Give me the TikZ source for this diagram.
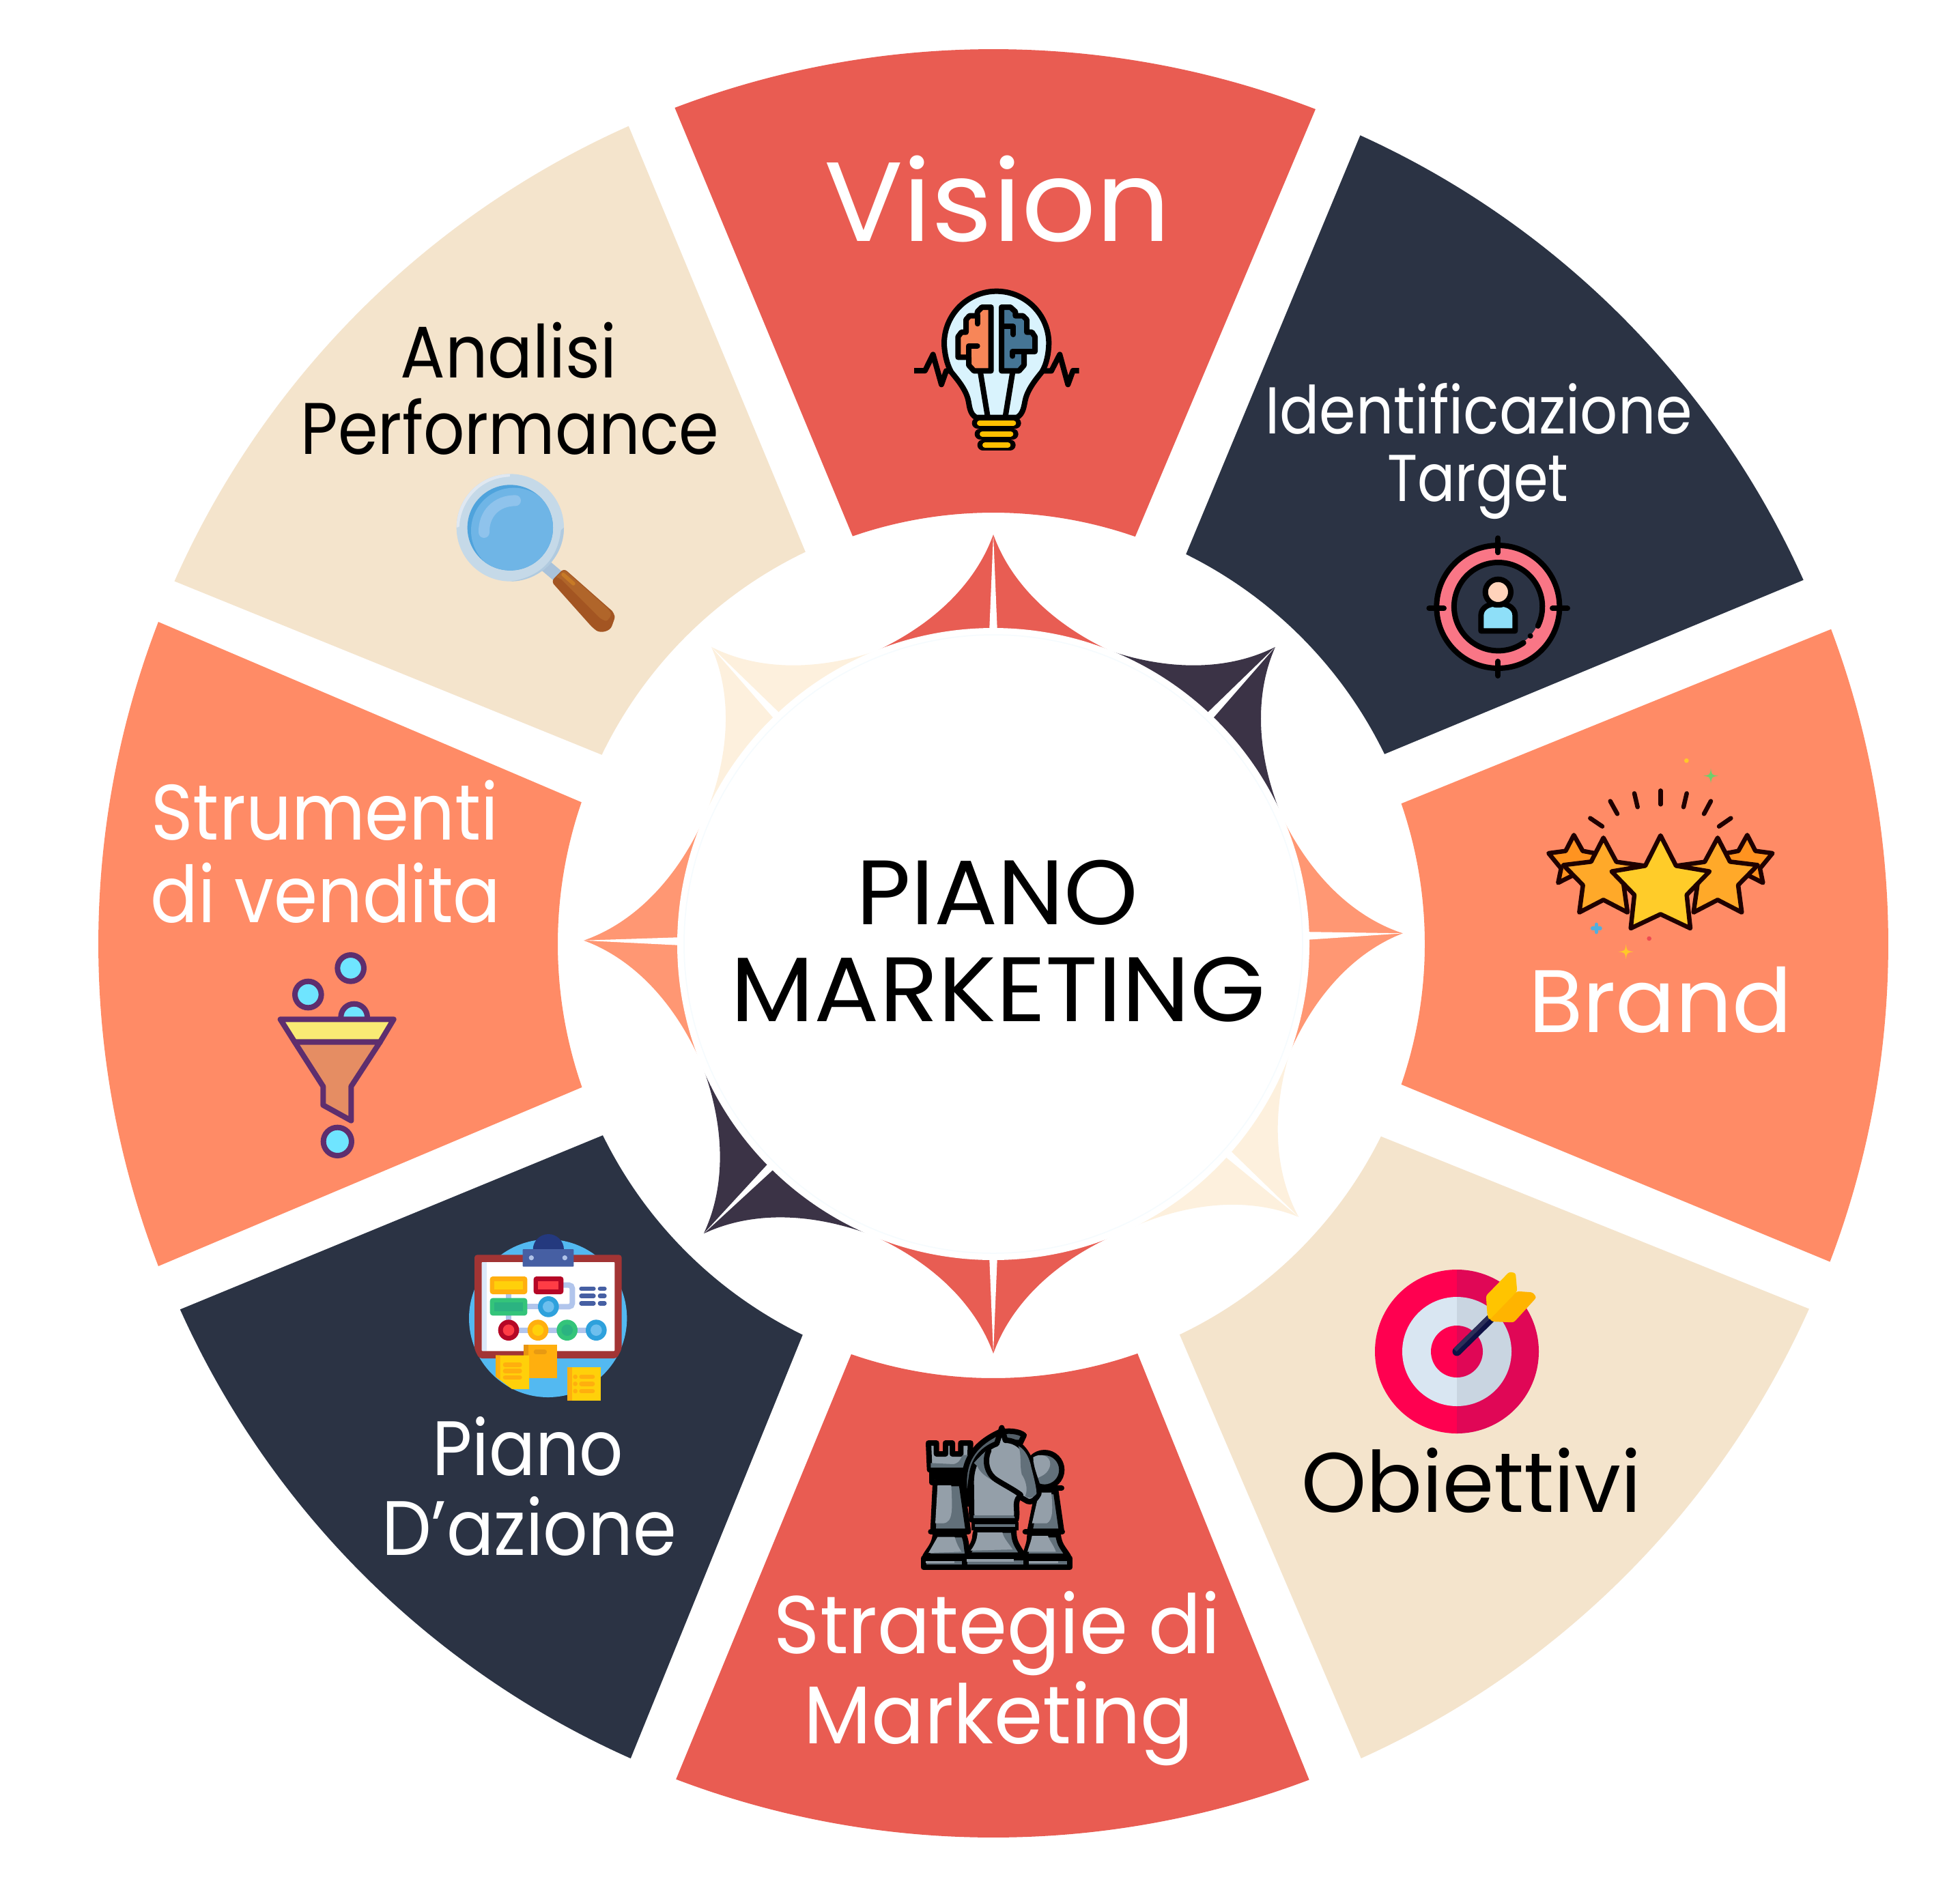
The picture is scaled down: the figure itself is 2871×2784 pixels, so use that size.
\documentclass[tikz,border=0pt]{standalone}
\usepackage{fontspec}
\usepackage{graphicx}
\setmainfont{Poppins}
\usetikzlibrary{calc}
\definecolor{cred}{HTML}{E95C52}
\definecolor{cdark}{HTML}{2B3344}
\definecolor{corange}{HTML}{FF8B66}
\definecolor{ccream}{HTML}{F4E4CC}
\definecolor{bred}{HTML}{E85D53}
\definecolor{bdark}{HTML}{3B3346}
\definecolor{borange}{HTML}{FF9773}
\definecolor{bcream}{HTML}{FDF0DD}
\definecolor{clight}{HTML}{949FA9}
\definecolor{cshade}{HTML}{62707A}
\tikzset{
  lbl/.style={anchor=base,inner sep=0pt,outer sep=0pt},
  iconzoom/.style={x=0.33333pt,y=-0.33333pt},
  ink/.style={draw=black,line width=8pt,line join=round,line cap=round},
  zigink/.style={draw=black,line width=8pt,line join=round},
  starink/.style={draw=black!88!red,line width=6.5pt,line join=round,line cap=round},
  funnelink/.style={draw=funnelp,line width=8pt,line join=round,line cap=round},
}
\definecolor{funnelp}{HTML}{5E2E6E}
\newcommand\sectorfill[7]{\fill[#1] ($(c)+(#3:#2)$) arc[start angle=#3,end angle=#4,radius=#2] -- ($(c)+(#6:#5)$) arc[start angle=#6,end angle=#7,radius=#5] -- cycle;}
\newcommand\bladefill[2]{\begin{scope}[shift={(c)},rotate=#2]
  \fill[#1] (430,-170) .. controls (470,-85) and (530,-25) .. (600,0) .. controls (530,25) and (470,85) .. (430,170) -- (0,0) -- cycle;
  \fill[white] (600,0) -- (455,-6) -- (455,6) -- cycle;
\end{scope}}
\newcommand\lbl[7]{\node[lbl,text=#6] (#1) at (#2,#3) {\resizebox{#5pt}{\height}{\fontsize{#4}{#4}\selectfont #7}};}
\newcommand\sparkfill[4]{\fill[#4] (#1,#2-#3) .. controls (#1+.12*#3,#2-.12*#3) .. (#1+#3,#2) .. controls (#1+.12*#3,#2+.12*#3) .. (#1,#2+#3) .. controls (#1-.12*#3,#2+.12*#3) .. (#1-#3,#2) .. controls (#1-.12*#3,#2-.12*#3) .. (#1,#2-#3) -- cycle;}
\begin{document}
\begin{tikzpicture}[x=1pt,y=-1pt]
\fill[white] (0,0) rectangle (2871,2784);
\useasboundingbox (0,0) rectangle (2871,2784);
\coordinate (c) at (1455,1383);
% sectors
\sectorfill{cred}{1311}{-110.85}{-68.9}{632}{-70.8}{-109.03}
\sectorfill{cdark}{1301}{-65.6}{-24.2}{637}{-25.9}{-63.7}
\sectorfill{corange}{1311}{-20.6}{20.8}{632}{19.0}{-19.0}
\sectorfill{ccream}{1309}{24.1}{65.7}{634}{64.5}{26.4}
\sectorfill{cred}{1309}{69.3}{110.8}{636}{109.1}{70.6}
\sectorfill{cdark}{1306}{114.0}{155.8}{637}{153.9}{116.0}
\sectorfill{corange}{1311}{158.9}{201.1}{638}{199.0}{160.8}
\sectorfill{ccream}{1312}{203.9}{245.97}{637}{244.4}{205.8}
% blades
\bladefill{bred}{90}
\bladefill{bdark}{46.5}
\bladefill{borange}{1.5}
\bladefill{bcream}{-41.8}
\bladefill{bred}{-90}
\bladefill{bdark}{-135}
\bladefill{borange}{-180.5}
\bladefill{bcream}{133.5}
\fill[white] (c) circle[radius=463];
\draw[draw=black!5!cyan!4!white,line width=1.5pt] (c) circle[radius=453];
% labels
\lbl{vision}{1461}{353}{165}{508}{white}{Vision}
\lbl{ident}{2166}{635}{97}{626}{white}{Identificazione}
\lbl{targetw}{2165}{734}{97}{265}{white}{Target}
\lbl{brand}{2432}{1512}{130}{386}{white}{Brand}
\lbl{obiet}{2155}{2215}{124}{498}{black}{Obiettivi}
\lbl{strat}{1461}{2422}{120}{654}{white}{Strategie di}
\lbl{mark}{1463}{2554}{120}{571}{white}{Marketing}
\lbl{piano}{773}{2161}{113}{280}{white}{Piano}
\lbl{dazione}{775}{2278}{113}{432}{white}{D’azione}
\lbl{strum}{476}{1230}{115}{509}{white}{Strumenti}
\lbl{vend}{477}{1351}{115}{513}{white}{di vendita}
\lbl{anal}{745}{553}{107}{317}{black}{Analisi}
\lbl{perf}{747}{665}{107}{613}{black}{Performance}
\lbl{pianoc}{1461}{1354}{134}{413}{black}{PIANO}
\lbl{markc}{1462}{1496}{134}{783}{black}{MARKETING}
% bulb
\begin{scope}[shift={(1250,380)},iconzoom]
\draw[zigink] (267,489) -- (315,489) -- (350,418) -- (387,550) -- (408,490) -- (430,490);
\draw[zigink] (830,490) -- (870,490) -- (907,418) -- (943,550) -- (965,489) -- (992,489);
\filldraw[ink,fill=cyan!15!white] (540,695) .. controls (510,680) and (510,640) .. (505,620) .. controls (495,570) and (450,520) .. (430,495) .. controls (410,460) and (400,410) .. (399,370) arc[start angle=180,end angle=360,radius=230] .. controls (858,410) and (850,460) .. (828,495) .. controls (808,520) and (765,570) .. (755,620) .. controls (750,640) and (748,680) .. (718,695) -- cycle;
\draw[ink] (558,495) -- (590,690);
\draw[ink] (700,495) -- (668,690);
\filldraw[ink,fill={rgb,255:red,247;green,134;blue,88}] (605,210) -- (565,210) -- (545,230) -- (545,248) -- (510,248) -- (495,265) -- (495,320) -- (475,320) -- (460,340) -- (460,430) -- (507,430) -- (507,465) -- (530,490) -- (605,490) -- cycle;
\draw[ink] (545,248) -- (545,283);
\draw[ink] (507,430) -- (507,380) -- (545,380);
\filldraw[ink,fill={rgb,255:red,69;green,117;blue,149}] (651,210) -- (690,210) -- (712,230) -- (712,248) -- (745,248) -- (762,265) -- (762,320) -- (785,320) -- (798,340) -- (798,405) -- (750,405) -- (750,465) -- (728,490) -- (651,490) -- cycle;
\draw[ink] (655,295) -- (703,295) -- (703,330);
\draw[ink] (750,405) -- (700,405) -- (700,425);
\foreach \yy/\xa/\xb in {719/545/713,767/557/701,816/569/689}{
  \draw[line width=16pt,line cap=round,black] (\xa,\yy) -- (\xb,\yy);
  \draw[line width=8pt,line cap=round,color={rgb,255:red,255;green,192;blue,0}] (\xa+10,\yy) -- (\xb-10,\yy);
}
\end{scope}
% target person
\begin{scope}[shift={(2050,760)},iconzoom]
\filldraw[ink,fill={rgb,255:red,249;green,118;blue,134}] (433,387) circle[radius=270];
\fill[cdark] (433,387) circle[radius=190];
\draw[ink] (545,545) arc[start angle=55,end angle=386,radius=194];
\fill[black] (575,515) circle[radius=12];
\draw[ink] (433,85) -- (433,148);
\draw[ink] (433,627) -- (433,690);
\draw[ink] (130,394) -- (195,394);
\draw[ink] (672,394) -- (738,394);
\filldraw[ink,fill={rgb,255:red,142;green,223;blue,248}] (358,493) -- (358,425) .. controls (358,395) and (385,378) .. (410,375) .. controls (425,380) and (441,380) .. (456,375) .. controls (481,378) and (508,395) .. (508,425) -- (508,493) -- cycle;
\filldraw[ink,fill={rgb,255:red,255;green,211;blue,187}] (433,322) circle[radius=56];
\end{scope}
% stars
\begin{scope}[shift={(2230,1080)},iconzoom]
\draw[starink] (607,235) -- (607,295);
\draw[starink] (492,247) -- (506,307);
\draw[starink] (722,247) -- (708,307);
\draw[starink] (386,281) -- (417,337);
\draw[starink] (828,281) -- (798,337);
\draw[starink] (298,356) -- (351,392);
\draw[starink] (916,356) -- (864,392);
\filldraw[starink,fill={rgb,255:red,255;green,147;blue,32}] (226,430) -- (265,500) -- (345,515) -- (283,577) -- (295,640) -- (226,605) -- (157,640) -- (170,577) -- (115,510) -- (190,500) -- cycle;
\filldraw[starink,fill={rgb,255:red,255;green,147;blue,32}] (988,430) -- (1024,500) -- (1099,510) -- (1044,577) -- (1057,640) -- (988,605) -- (919,640) -- (931,577) -- (869,515) -- (949,500) -- cycle;
\filldraw[starink,fill={rgb,255:red,255;green,169;blue,41}] (356,442) -- (413,548) -- (535,565) -- (445,650) -- (462,770) -- (356,715) -- (250,770) -- (266,650) -- (180,562) -- (302,547) -- cycle;
\filldraw[starink,fill={rgb,255:red,255;green,169;blue,41}] (858,442) -- (912,547) -- (1034,562) -- (948,650) -- (964,770) -- (858,715) -- (752,770) -- (769,650) -- (679,565) -- (801,548) -- cycle;
\filldraw[starink,fill={rgb,255:red,255;green,204;blue,41}] (607,432) -- (675,565) -- (822,590) -- (722,693) -- (738,840) -- (607,778) -- (476,840) -- (492,693) -- (392,590) -- (540,565) -- cycle;
\fill[color={rgb,255:red,255;green,201;blue,40}] (721,103) circle[radius=10];
\fill[color={rgb,255:red,238;green,75;blue,82}] (557,885) circle[radius=10];
\definecolor{sparkg}{HTML}{6FCF6B}\definecolor{sparky}{HTML}{FFC928}
\sparkfill{828}{170}{33}{sparkg}
\sparkfill{455}{943}{33}{sparky}
\draw[line width=5.5pt,line cap=round,color={rgb,255:red,84;green,174;blue,220}] (308,840) -- (342,840) (325,823) -- (325,857);
\end{scope}
% dart target
\begin{scope}[shift={(1970,1830)},iconzoom]
\definecolor{tr}{HTML}{FF0050}\definecolor{trd}{HTML}{E00756}
\definecolor{tw}{HTML}{D9E6F2}\definecolor{twd}{HTML}{C9D5E1}
\fill[tr] (492,90) arc[start angle=-90,end angle=-270,radius=360] -- cycle;
\fill[trd] (492,90) arc[start angle=-90,end angle=90,radius=360] -- cycle;
\fill[tw] (492,210) arc[start angle=-90,end angle=-270,radius=240] -- cycle;
\fill[twd] (492,210) arc[start angle=-90,end angle=90,radius=240] -- cycle;
\fill[tr] (492,336) arc[start angle=-90,end angle=-270,radius=114] -- cycle;
\fill[trd] (492,336) arc[start angle=-90,end angle=90,radius=114] -- cycle;
\draw[line width=13pt,line cap=round,color={rgb,255:red,14;green,17;blue,69}] (492,450) -- (640,305);
\draw[line width=6pt,color={rgb,255:red,44;green,47;blue,89}] (484,444) -- (632,298);
\fill[color={rgb,255:red,255;green,180;blue,0},rounded corners=3pt] (630,295) -- (757,185) -- (825,190) -- (842,212) -- (742,322) -- (645,318) -- cycle;
\fill[color={rgb,255:red,255;green,196;blue,0},rounded corners=3pt] (620,205) -- (722,100) -- (750,105) -- (757,185) -- (634,312) -- (626,290) -- cycle;
\end{scope}
% chess
\begin{scope}[shift={(1320,2060)},iconzoom]
% pawn
\filldraw[ink,fill=cshade] (630,280) circle[radius=76];
\fill[clight] (580,225) .. controls (610,205) and (655,215) .. (655,255) .. controls (650,300) and (610,310) .. (590,320) -- cycle;
\filldraw[ink,fill=cshade] (600,375) -- (565,550) -- (705,550) -- (680,375) -- cycle;
\fill[clight] (606,380) -- (575,515) -- (640,515) .. controls (670,500) and (665,440) .. (660,380) -- cycle;
\draw[ink] (620,360) -- (705,360);
\filldraw[ink,fill=cshade] (565,565) .. controls (565,610) and (550,625) .. (545,660) -- (735,660) .. controls (710,620) and (695,610) .. (690,565) -- cycle;
\fill[clight] (575,570) .. controls (570,600) and (560,620) .. (555,640) -- (680,640) .. controls (670,610) and (650,590) .. (645,570) -- cycle;
\draw[ink] (545,552) -- (708,552);
% rook
\filldraw[ink,fill=clight] (120,162) -- (155,162) -- (155,210) -- (195,210) -- (195,162) -- (225,162) -- (225,210) -- (262,210) -- (262,162) -- (305,162) -- (300,280) -- (125,280) -- cycle;
\fill[cshade] (130,250) -- (230,255) .. controls (260,250) and (265,220) .. (270,215) -- (295,215) -- (292,270) -- (130,270) -- cycle;
\filldraw[ink,fill=cshade] (150,340) -- (140,550) -- (295,550) -- (265,340) -- cycle;
\fill[clight] (160,345) -- (150,515) -- (185,515) .. controls (230,510) and (225,450) .. (220,345) -- cycle;
\filldraw[ink,fill=cshade] (135,290) rectangle (262,335);
\draw[ink] (150,312) -- (250,312);
\filldraw[ink,fill=cshade] (150,565) .. controls (145,610) and (125,625) .. (105,660) -- (295,660) .. controls (285,625) and (290,600) .. (275,565) -- cycle;
\fill[clight] (160,575) -- (120,645) -- (265,640) .. controls (245,610) and (240,590) .. (235,575) -- cycle;
\draw[ink] (130,552) -- (295,552);
% knight mane
\filldraw[ink,fill=cshade!85!black] (285,430) .. controls (265,300) and (270,190) .. (430,115) .. controls (470,105) and (520,110) .. (540,128) -- (525,160) -- (440,160) .. controls (340,190) and (300,260) .. (300,430) -- cycle;
% knight
\filldraw[ink,fill=clight] (310,500) -- (308,330) .. controls (310,250) and (345,195) .. (420,165) -- (442,95) -- (458,150) .. controls (510,150) and (550,190) .. (570,250) .. controls (578,300) and (605,350) .. (605,385) .. controls (590,415) and (570,425) .. (555,418) -- (520,398) .. controls (495,420) and (515,460) .. (505,500) -- cycle;
\fill[cshade] (318,480) -- (495,480) -- (500,492) -- (318,492) -- cycle;
\fill[cshade] (320,250) .. controls (345,220) and (370,200) .. (375,195) -- (380,260) .. controls (385,300) and (470,340) .. (510,385) .. controls (440,340) and (360,320) .. (335,265) -- cycle;
\fill[cshade] (515,175) .. controls (545,190) and (565,230) .. (572,270) .. controls (585,320) and (595,360) .. (595,385) .. controls (575,410) and (555,405) .. (545,395) .. controls (560,365) and (545,320) .. (530,300) .. controls (520,260) and (530,210) .. (515,175) -- cycle;
\draw[ink] (385,195) .. controls (360,250) and (385,305) .. (420,325) .. controls (460,350) and (500,370) .. (525,390);
\filldraw[ink,fill=cshade] (325,565) .. controls (325,600) and (305,620) .. (290,655) -- (535,655) .. controls (510,610) and (495,600) .. (495,545) -- (330,545) -- cycle;
\fill[clight] (335,555) .. controls (335,590) and (320,615) .. (305,635) -- (490,630) .. controls (470,600) and (450,580) .. (445,555) -- cycle;
\fill[black] (308,510) rectangle (515,545);
\fill[cshade] (325,518) rectangle (500,532);
% base
\filldraw[ink,fill=cshade] (98,668) rectangle (278,708);
\filldraw[ink,fill=cshade] (278,665) rectangle (548,708);
\filldraw[ink,fill=cshade] (548,668) rectangle (742,708);
\fill[clight] (108,680) rectangle (235,690);
\fill[clight] (288,672) rectangle (495,683);
\fill[clight] (560,680) rectangle (690,690);
\end{scope}
% planning board
\begin{scope}[shift={(660,1790)},iconzoom]
\definecolor{bluec}{HTML}{53B9F1}\definecolor{brdd}{HTML}{A23434}
\definecolor{navyc}{HTML}{465FA3}\definecolor{ora}{HTML}{FFAF0E}\definecolor{yel}{HTML}{FFD00A}
\definecolor{rdk}{HTML}{B50726}\definecolor{rlt}{HTML}{FF3C45}\definecolor{gdk}{HTML}{34C47A}\definecolor{glt}{HTML}{2BB381}
\definecolor{bdk}{HTML}{2EA1DC}\definecolor{blt}{HTML}{6DBFEE}\definecolor{cnn}{HTML}{B1C5EC}
\fill[bluec] (428,424) circle[radius=347];
\fill[color={rgb,255:red,36;green,57;blue,126}] (362,122) arc[start angle=180,end angle=360,radius=68] -- cycle;
\fill[brdd,rounded corners=4pt] (105,145) -- (752,145) -- (752,560) -- (730,600) -- (125,600) -- (105,560) -- cycle;
\fill[white,rounded corners=1pt] (137,177) rectangle (721,568);
\fill[color={rgb,255:red,219;green,233;blue,249}] (137,177) rectangle (160,568);
\fill[navyc,rounded corners=1pt] (317,120) rectangle (541,197);
\fill[color={rgb,255:red,176;green,195;blue,232}] (355,158) circle[radius=11] (502,158) circle[radius=11];
\draw[cnn,line width=8pt] (255,310) -- (255,340) (255,405) -- (255,435) (335,373) -- (390,373);
\draw[cnn,line width=8pt,rounded corners=5pt] (470,373) -- (535,373) -- (535,278) -- (490,278);
\draw[cnn,line width=8pt] (255,476) -- (640,476);
\fill[ora,rounded corners=4pt] (173,240) rectangle (337,318);
\fill[yel] (192,260) rectangle (317,297);
\fill[rdk,rounded corners=4pt] (365,240) rectangle (496,318);
\fill[rlt] (385,260) rectangle (475,297);
\fill[gdk,rounded corners=4pt] (173,335) rectangle (337,412);
\fill[glt] (192,355) rectangle (317,392);
\foreach \xx/\yy/\ca/\cb in {430/373/bdk/blt,255/476/rdk/rlt,384/476/ora/yel,512/476/gdk/glt,640/476/bdk/blt}{
  \fill[\ca] (\xx,\yy) circle[radius=46];
  \fill[\cb] (\xx,\yy) circle[radius=25];
}
\foreach \yy in {294,326,358}{
  \draw[navyc,line width=6.7pt,line cap=round] (575,\yy) -- (628,\yy) (657,\yy) -- (676,\yy);
}
\fill[ora] (320,540) rectangle (467,688);
\fill[color={rgb,255:red,232;green,148;blue,15}] (320,540) rectangle (342,688);
\draw[color={rgb,255:red,232;green,154;blue,18},line width=6.7pt,line cap=round] (375,572) -- (413,572);
\fill[yel] (198,587) -- (345,587) -- (345,735) -- (270,735) -- (198,680) -- cycle;
\fill[ora] (198,587) -- (218,587) -- (218,695) -- (198,680) -- cycle;
\foreach \yy in {628,656,684}{\draw[ora,line width=6.7pt,line cap=round] (240,\yy) -- (304,\yy);}
\fill[yel] (512,640) rectangle (660,785);
\fill[ora] (512,640) rectangle (534,785);
\foreach \yy in {681,712,744}{
  \fill[ora] (548,\yy) circle[radius=10];
  \draw[ora,line width=6.7pt,line cap=round] (575,\yy) -- (624,\yy);
}
\end{scope}
% funnel
\begin{scope}[shift={(380,1370)},iconzoom]
\definecolor{ball}{HTML}{6FE5FF}
\filldraw[funnelink,fill=ball] (401,145) circle[radius=58];
\filldraw[funnelink,fill=ball] (214,261) circle[radius=58];
\filldraw[funnelink,fill=ball] (416,360) circle[radius=58];
\filldraw[funnelink,fill=ball] (343,907) circle[radius=62];
\fill[corange] (340,382) rectangle (500,430);
\filldraw[funnelink,fill={rgb,255:red,249;green,234;blue,116}] (92,370) -- (590,370) -- (530,470) -- (155,470) -- cycle;
\filldraw[funnelink,fill={rgb,255:red,229;green,141;blue,99}] (155,470) -- (530,470) -- (403,665) -- (403,815) -- (280,747) -- (280,665) -- cycle;
\end{scope}
% magnifier
\begin{scope}[shift={(640,670)},iconzoom]
\draw[line width=18pt,color={rgb,255:red,169;green,194;blue,218}] (470,470) -- (535,525);
\fill[color={rgb,255:red,197;green,217;blue,232}] (322,309) circle[radius=236];
\fill[color={rgb,255:red,176;green,202;blue,223}] (558,309) arc[start angle=0,end angle=90,radius=236] .. controls (440,530) and (530,460) .. (545,320) -- cycle;
\fill[color={rgb,255:red,224;green,232;blue,241}] (86,309) arc[start angle=180,end angle=270,radius=236] -- (320,85) .. controls (190,90) and (105,190) .. (98,305) -- cycle;
\fill[color={rgb,255:red,79;green,163;blue,220}] (322,309) circle[radius=188];
\begin{scope}
\clip (322,309) circle[radius=188];
\fill[color={rgb,255:red,111;green,181;blue,230}] (338,322) circle[radius=188];
\end{scope}
\draw[line width=16pt,line cap=round,color={rgb,255:red,143;green,195;blue,236}] (345,190) .. controls (260,190) and (205,250) .. (207,330);
\fill[color={rgb,255:red,163;green,85;blue,34},rounded corners=6pt] (558,488) -- (502,545) -- (685,750) .. controls (720,775) and (760,765) .. (775,725) .. controls (785,695) and (770,675) .. (755,662) -- cycle;
\fill[color={rgb,255:red,176;green,101;blue,42},rounded corners=6pt] (558,492) -- (518,535) .. controls (530,530) and (545,535) .. (560,550) -- (725,715) .. controls (750,720) and (770,695) .. (755,668) -- cycle;
\draw[line width=5.5pt,line cap=round,color={rgb,255:red,199;green,122;blue,38}] (555,515) -- (600,555);
\end{scope}
\end{tikzpicture}
\end{document}
